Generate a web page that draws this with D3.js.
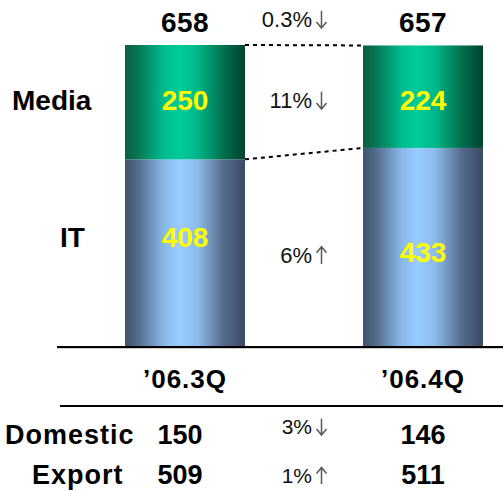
<!DOCTYPE html>
<html>
<head>
<meta charset="utf-8">
<script src="https://cdn.jsdelivr.net/npm/d3@7/dist/d3.min.js"></script>
<style>
  html, body { margin: 0; padding: 0; background: #fff; }
  svg { display: block; font-family: Arial, "Liberation Sans", sans-serif; }
</style>
</head>
<body>
<svg id="chart" width="503" height="491"></svg>
<script>
// Quarterly sales by segment
const quarters = ["\u201906.3Q", "\u201906.4Q"];
const segments = ["IT", "Media"];
const itValues = [408, 433];
const mediaValues = [250, 224];
const totals = [658, 657];
const changeLabels = { total: "0.3%", Media: "11%", IT: "6%" };
const changeDirs = { total: "down", Media: "down", IT: "up" };
const regionRows = ["Domestic", "Export"];
const domesticValues = [150, 146];
const exportValues = [509, 511];
const regionChanges = ["3%", "1%"];
const regionDirs = ["down", "up"];

const svg = d3.select("#chart");
const defs = svg.append("defs");

function cylinder(id, stops) {
  const g = defs.append("linearGradient").attr("id", id)
    .attr("x1", "0%").attr("x2", "100%").attr("y1", "0%").attr("y2", "0%");
  stops.forEach(([o, c]) => g.append("stop").attr("offset", o).attr("stop-color", c));
}
cylinder("gMedia", [[0, "#0b5c43"], [0.12, "#057a58"], [0.32, "#00bb8d"], [0.45, "#00cc99"], [0.6, "#00b88a"], [0.82, "#02704f"], [1, "#00432f"]]);
cylinder("gIT", [[0, "#3f536e"], [0.12, "#566f90"], [0.32, "#88b8e8"], [0.45, "#99ccff"], [0.6, "#8dbcec"], [0.82, "#566c8c"], [1, "#3b4a63"]]);

const x = d3.scaleBand().domain(quarters).range([125, 483])
  .paddingInner(118 / 238).paddingOuter(0);
const y = d3.scaleLinear().domain([0, 658]).range([346, 45]);

const stack = d3.stack().keys(segments)(quarters.map((q, i) => ({ q, IT: itValues[i], Media: mediaValues[i] })));

const bw = x.bandwidth();
const bx = q => x(q);
const cx = q => x(q) + bw / 2;

// Stacked cylinder bars
const layer = svg.selectAll("g.layer").data(stack).join("g")
  .attr("class", "layer")
  .attr("fill", d => d.key === "IT" ? "url(#gIT)" : "url(#gMedia)");
layer.selectAll("rect").data(d => d).join("rect")
  .attr("x", d => bx(d.data.q))
  .attr("width", bw)
  .attr("y", d => y(d[1]))
  .attr("height", d => y(d[0]) - y(d[1]));

// Segment values inside bars (baselines set per label)
const valueBaseline = { Media: [110, 110], IT: [247, 262] };
stack.forEach(s => {
  svg.selectAll(null).data(s).join("text")
    .attr("x", d => cx(d.data.q))
    .attr("y", (d, i) => valueBaseline[s.key][i])
    .attr("text-anchor", "middle")
    .attr("font-weight", "bold").attr("font-size", 28)
    .attr("fill", "#ffff00")
    .text(d => d.data[s.key]);
});

// Totals above bars
svg.selectAll(null).data(quarters).join("text")
  .attr("x", q => cx(q))
  .attr("y", 32)
  .attr("text-anchor", "middle")
  .attr("font-weight", "bold").attr("font-size", 28)
  .attr("letter-spacing", 0.5)
  .attr("fill", "#000")
  .text((q, i) => totals[i]);

// Dashed connectors between bars
const r0 = bx(quarters[0]) + bw, l1 = bx(quarters[1]);
const connectors = [
  [y(totals[0]), y(totals[1])],
  [y(itValues[0]), y(itValues[1])]
];
svg.selectAll(null).data(connectors).join("line")
  .attr("x1", r0).attr("x2", l1)
  .attr("y1", d => d[0]).attr("y2", d => d[1])
  .attr("stroke", "#000").attr("stroke-width", 2)
  .attr("stroke-dasharray", "4,4");

// Segment names
svg.append("text").attr("x", 12).attr("y", 110)
  .attr("font-weight", "bold").attr("font-size", 28).text("Media");
svg.append("text").attr("x", 60).attr("y", 247)
  .attr("font-weight", "bold").attr("font-size", 28).text("IT");

// Change labels: percentage text followed by a thin drawn arrow
function change(yb, label, dir, size) {
  svg.append("text").attr("x", 312).attr("y", yb)
    .attr("text-anchor", "end").attr("font-size", size).attr("fill", "#111")
    .text(label);
  const ax = 321.5, top = yb - size * 0.74, bot = yb + 1;
  const tip = dir === "up" ? top : bot;
  const back = dir === "up" ? top + 6 : bot - 6;
  svg.append("path")
    .attr("d", `M${ax},${top}V${bot}M${ax - 5},${back}L${ax},${tip}L${ax + 5},${back}`)
    .attr("fill", "none").attr("stroke", "#5a5a5a").attr("stroke-width", 1.5);
}
change(27, changeLabels.total, changeDirs.total, 22);
change(108, changeLabels.Media, changeDirs.Media, 22);
change(263, changeLabels.IT, changeDirs.IT, 22);

// Axis baseline
svg.append("line").attr("x1", 57).attr("x2", 503).attr("y1", 348.5).attr("y2", 348.5)
  .attr("stroke", "#ccc").attr("stroke-width", 1);
svg.append("line").attr("x1", 57).attr("x2", 503).attr("y1", 347).attr("y2", 347)
  .attr("stroke", "#000").attr("stroke-width", 2);

// Quarter labels
const xAxis = svg.append("g").attr("transform", "translate(0,347)")
  .call(d3.axisBottom(x).tickSize(0).tickPadding(0));
xAxis.select(".domain").remove();
xAxis.selectAll("text")
  .attr("dy", 0).attr("y", 41)
  .attr("font-family", "Arial, 'Liberation Sans', sans-serif")
  .attr("font-weight", "bold").attr("font-size", 26)
  .attr("letter-spacing", 1).attr("fill", "#000");

svg.append("line").attr("x1", 60).attr("x2", 503).attr("y1", 406).attr("y2", 406)
  .attr("stroke", "#000").attr("stroke-width", 2);

// Domestic / Export table
const rows = [domesticValues, exportValues];
const rowY = [444, 484];
const changeY = [434, 483];
regionRows.forEach((name, r) => {
  svg.append("text").attr("x", r === 0 ? 5 : 32).attr("y", rowY[r])
    .attr("font-weight", "bold").attr("font-size", 27)
    .attr("letter-spacing", 1).text(name);
  svg.selectAll(null).data(rows[r]).join("text")
    .attr("x", (v, i) => i === 0 ? 180 : cx(quarters[1]))
    .attr("y", rowY[r])
    .attr("text-anchor", "middle")
    .attr("font-weight", "bold").attr("font-size", 27)
    .text(v => v);
  change(changeY[r], regionChanges[r], regionDirs[r], 21);
});
</script>
</body>
</html>
